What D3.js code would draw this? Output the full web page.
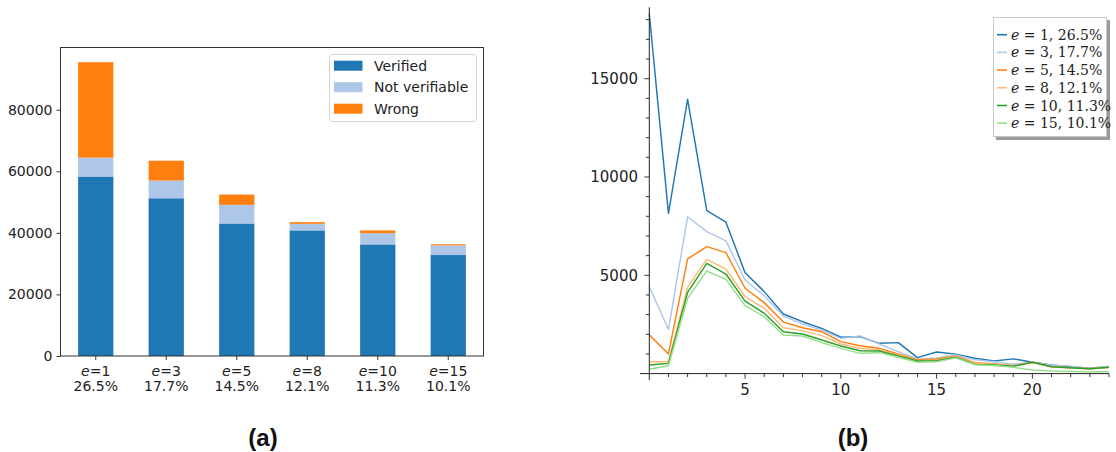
<!DOCTYPE html>
<html>
<head>
<meta charset="utf-8">
<script src="https://cdn.jsdelivr.net/npm/d3@7"></script>
<style>
  html, body { margin: 0; padding: 0; background: #fff; }
  svg { display: block; }
</style>
</head>
<body>
<svg id="chart" width="1116" height="452"></svg>
<script>
// ---------- Data: panel (a) ----------
const barCategories = ["e=1", "e=3", "e=5", "e=8", "e=10", "e=15"];
const barEValues = ["1", "3", "5", "8", "10", "15"];
const barPercents = ["26.5%", "17.7%", "14.5%", "12.1%", "11.3%", "10.1%"];
const verified = [58300, 51250, 43050, 40800, 36250, 32800];
const notVerifiable = [6150, 5750, 6050, 2150, 3650, 3150];
const wrong = [31000, 6450, 3350, 550, 900, 350];
const barKeys = ["Verified", "Not verifiable", "Wrong"];
const barColors = ["#1f77b4", "#aec7e8", "#ff7f0e"];
const barYTicks = [0, 20000, 40000, 60000, 80000];

// ---------- Data: panel (b) ----------
const lineX = [0,1,2,3,4,5,6,7,8,9,10,11,12,13,14,15,16,17,18,19,20,21,22,23,24];
const lineE1  = [18300, 8150, 13950, 8290, 7700, 5130, 4170, 3030, 2640, 2300, 1850, 1880, 1540, 1575, 810, 1100, 990, 780, 640, 750, 580, 440, 350, 270, 350];
const lineE3  = [4420, 2250, 7980, 7220, 6750, 4760, 3950, 2930, 2530, 2220, 1790, 1920, 1510, 1120, 730, 790, 950, 700, 600, 480, 580, 430, 380, 270, 380];
const lineE5  = [1970, 1000, 5830, 6460, 6150, 4340, 3610, 2620, 2335, 2130, 1625, 1420, 1285, 995, 700, 740, 895, 555, 490, 400, 575, 350, 300, 250, 320];
const lineE8  = [605, 605, 4390, 5810, 5320, 3910, 3320, 2335, 2185, 1930, 1505, 1285, 1200, 945, 660, 690, 870, 520, 470, 400, 560, 340, 290, 240, 310];
const lineE10 = [440, 520, 4135, 5610, 5065, 3690, 3065, 2130, 2015, 1710, 1405, 1165, 1150, 895, 640, 655, 830, 470, 440, 370, 575, 350, 300, 250, 320];
const lineE15 = [220, 400, 3830, 5220, 4795, 3455, 2895, 1965, 1910, 1575, 1285, 1030, 1065, 830, 575, 605, 800, 450, 410, 320, 180, 130, 110, 90, 90];
const lineSeriesE = ["1", "3", "5", "8", "10", "15"];
const lineSeriesPct = ["26.5%", "17.7%", "14.5%", "12.1%", "11.3%", "10.1%"];
const lineColors = ["#1f77b4", "#aec7e8", "#ff7f0e", "#ffbb78", "#2ca02c", "#98df8a"];
const lineXTicks = [5, 10, 15, 20];
const lineYTicks = [5000, 10000, 15000];

const svg = d3.select("#chart");
const sansFont = "'DejaVu Sans', Verdana, sans-serif";

// ================= Panel (a) =================
(function () {
  const L = 60.5, R = 483.5, T = 47.5, B = 356;
  const table = barCategories.map((c, i) => ({
    cat: c, "Verified": verified[i], "Not verifiable": notVerifiable[i], "Wrong": wrong[i]
  }));
  const stacked = d3.stack().keys(barKeys)(table);
  const maxTotal = d3.max(table, d => d.Verified + d["Not verifiable"] + d.Wrong);
  const x = d3.scaleBand().domain(barCategories).range([L, R]).paddingInner(0.5).paddingOuter(0.25);
  const y = d3.scaleLinear().domain([0, maxTotal * 1.05]).range([B, T]);

  const g = svg.append("g");
  stacked.forEach((layer, k) => {
    g.append("g").selectAll("rect").data(layer).enter().append("rect")
      .attr("x", d => x(d.data.cat))
      .attr("width", x.bandwidth())
      .attr("y", d => y(d[1]))
      .attr("height", d => y(d[0]) - y(d[1]))
      .attr("fill", barColors[k]);
  });

  // y axis
  const yAxis = d3.axisLeft(y).tickValues(barYTicks).tickSize(4).tickPadding(4).tickFormat(d3.format("d"));
  const ya = g.append("g").attr("transform", `translate(${L},0)`).call(yAxis);
  ya.select(".domain").remove();
  ya.selectAll(".tick line").attr("stroke", "#222").attr("stroke-width", 0.9);
  ya.selectAll(".tick text").attr("font-family", sansFont).attr("font-size", 14).attr("fill", "#222");

  // x axis
  const xAxis = d3.axisBottom(x).tickSize(4).tickFormat("");
  const xa = g.append("g").attr("transform", `translate(0,${B})`).call(xAxis);
  xa.select(".domain").remove();
  xa.selectAll(".tick line").attr("stroke", "#222").attr("stroke-width", 0.9);
  barCategories.forEach((c, i) => {
    const cx = x(c) + x.bandwidth() / 2;
    const t1 = g.append("text").attr("x", cx).attr("y", 376).attr("text-anchor", "middle")
      .attr("font-family", sansFont).attr("font-size", 14).attr("fill", "#222");
    t1.append("tspan").attr("font-style", "italic").text("e");
    t1.append("tspan").text("=" + barEValues[i]);
    g.append("text").attr("x", cx).attr("y", 391).attr("text-anchor", "middle")
      .attr("font-family", sansFont).attr("font-size", 14).attr("fill", "#222").text(barPercents[i]);
  });

  // frame
  g.append("rect").attr("x", L).attr("y", T).attr("width", R - L).attr("height", B - T)
    .attr("fill", "none").attr("stroke", "#333").attr("stroke-width", 1);

  // legend
  const lg = g.append("g");
  lg.append("rect").attr("x", 329.5).attr("y", 54.5).attr("width", 147).attr("height", 67)
    .attr("rx", 3).attr("fill", "#fff").attr("fill-opacity", 0.8).attr("stroke", "#d4d4d4");
  barKeys.forEach((k, i) => {
    const yy = 65.7 + i * 21.5;
    lg.append("rect").attr("x", 334).attr("y", yy - 5).attr("width", 28.5).attr("height", 10).attr("fill", barColors[i]);
    lg.append("text").attr("x", 374).attr("y", yy + 5).attr("font-family", sansFont).attr("font-size", 14)
      .attr("fill", "#222").text(k);
  });

  svg.append("text").attr("x", 263).attr("y", 446).attr("text-anchor", "middle")
    .attr("font-family", "'Liberation Sans', Arial, sans-serif").attr("font-weight", "bold")
    .attr("font-size", 24).attr("fill", "#111").text("(a)");
})();

// ================= Panel (b) =================
(function () {
  const x0 = 649.3, x1 = 1109, y0 = 373.6, yTop = 7.3;
  const x = d3.scaleLinear().domain([0, 24]).range([x0, x1]);
  const y = d3.scaleLinear().domain([0, 18630]).range([y0, yTop]);
  const g = svg.append("g");

  const series = [lineE1, lineE3, lineE5, lineE8, lineE10, lineE15];
  const line = d3.line().x((d, i) => x(lineX[i])).y(d => y(d));
  series.forEach((s, k) => {
    g.append("path").datum(s).attr("d", line).attr("fill", "none")
      .attr("stroke", lineColors[k]).attr("stroke-width", 1.45).attr("stroke-linejoin", "round");
  });

  // axes lines
  g.append("line").attr("x1", 640).attr("x2", x1).attr("y1", y0).attr("y2", y0).attr("stroke", "#222").attr("stroke-width", 1);
  g.append("line").attr("x1", x0).attr("x2", x0).attr("y1", yTop).attr("y2", 380).attr("stroke", "#222").attr("stroke-width", 1);

  // x ticks
  d3.range(1, 25).forEach(v => {
    const major = lineXTicks.includes(v);
    g.append("line").attr("x1", x(v)).attr("x2", x(v)).attr("y1", y0).attr("y2", y0 + (major ? 5 : 3.5))
      .attr("stroke", "#222").attr("stroke-width", 0.9);
  });
  lineXTicks.forEach(v => {
    g.append("text").attr("x", x(v)).attr("y", 395).attr("text-anchor", "middle")
      .attr("font-family", sansFont).attr("font-size", 15).attr("fill", "#222").text(v);
  });
  // y ticks
  d3.range(1000, 18631, 1000).forEach(v => {
    const major = lineYTicks.includes(v);
    g.append("line").attr("x1", x0 - (major ? 5 : 3.5)).attr("x2", x0).attr("y1", y(v)).attr("y2", y(v))
      .attr("stroke", "#222").attr("stroke-width", 0.9);
  });
  lineYTicks.forEach(v => {
    g.append("text").attr("x", 638).attr("y", y(v) + 5.5).attr("text-anchor", "end")
      .attr("font-family", sansFont).attr("font-size", 15).attr("fill", "#222").text(v);
  });

  // legend with shadow
  const lg = g.append("g");
  lg.append("rect").attr("x", 996).attr("y", 20).attr("width", 114).attr("height", 120).attr("fill", "#9a9a9a");
  lg.append("rect").attr("x", 993.5).attr("y", 17.5).attr("width", 113).attr("height", 119)
    .attr("fill", "#fff").attr("stroke", "#c8c8c8").attr("stroke-width", 1);
  lineSeriesE.forEach((e, i) => {
    const yy = 34.7 + i * 17.7;
    lg.append("line").attr("x1", 997).attr("x2", 1007).attr("y1", yy).attr("y2", yy)
      .attr("stroke", lineColors[i]).attr("stroke-width", 1.6);
    const t = lg.append("text").attr("x", 1011).attr("y", yy + 5)
      .attr("font-family", "'DejaVu Serif', 'Liberation Serif', serif").attr("font-size", 14).attr("fill", "#222");
    t.append("tspan").attr("font-style", "italic").text("e");
    t.append("tspan").text(" = " + e + ", " + lineSeriesPct[i]);
  });

  svg.append("text").attr("x", 853).attr("y", 446).attr("text-anchor", "middle")
    .attr("font-family", "'Liberation Sans', Arial, sans-serif").attr("font-weight", "bold")
    .attr("font-size", 24).attr("fill", "#111").text("(b)");
})();
</script>
</body>
</html>
